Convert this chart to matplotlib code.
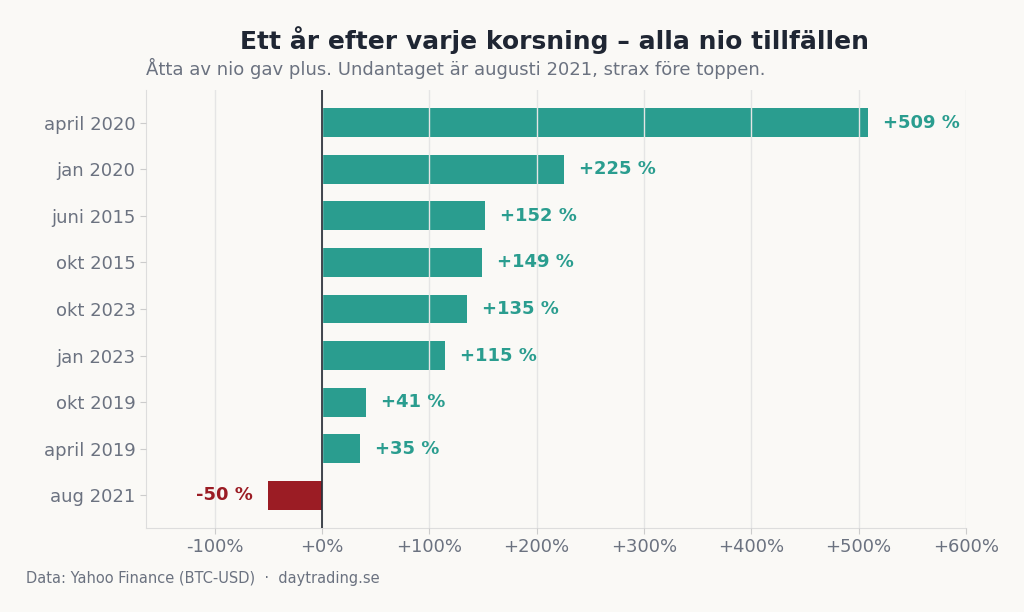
import matplotlib
matplotlib.use("Agg")
import matplotlib.pyplot as plt

labels = ["april 2020", "jan 2020", "juni 2015", "okt 2015", "okt 2023", "jan 2023", "okt 2019", "april 2019", "aug 2021"]
values = [509, 225, 152, 149, 135, 115, 41, 35, -50]
ticks = [-100, 0, 100, 200, 300, 400, 500, 600]

bg = "#faf9f6"
green = "#2a9d8f"
red = "#9b1c24"
gray = "#6b7280"

fig = plt.figure(figsize=(10.24, 6.12), dpi=100, facecolor=bg)
ax = fig.add_axes([146/1024, 1-528/612, 820/1024, 438/612], facecolor=bg)

y = list(range(len(labels)))[::-1]
colors = [green if v >= 0 else red for v in values]
ax.barh(y, values, height=0.62, color=colors, zorder=2)
for yi, v, c in zip(y, values, colors):
    if v >= 0:
        ax.text(v + 14, yi, f"+{v} %", va="center", ha="left", color=c, fontsize=13, fontweight="bold")
    else:
        ax.text(v - 14, yi, f"{v} %", va="center", ha="right", color=c, fontsize=13, fontweight="bold")

ax.set_xlim(-164, 600)
ax.set_ylim(-0.7, 8.7)
ax.set_xticks(ticks)
ax.set_xticklabels([f"+{t}%" if t >= 0 else f"{t}%" for t in ticks])
ax.set_yticks(y)
ax.set_yticklabels(labels)
ax.tick_params(colors=gray, labelsize=13, length=4)
ax.tick_params(axis="y", colors="#cccccc", labelcolor=gray)
ax.tick_params(axis="x", colors="#cccccc", labelcolor=gray)
ax.grid(axis="x", color="#e5e5e5", linewidth=1, zorder=3)
ax.set_axisbelow(False)
ax.axvline(0, color="#222831", linewidth=1.2, zorder=4)
for s in ["top", "right"]:
    ax.spines[s].set_visible(False)
for s in ["left", "bottom"]:
    ax.spines[s].set_color("#dddddd")

fig.text(555/1024, 1-40/612, "Ett år efter varje korsning – alla nio tillfällen", ha="center", va="center",
         fontsize=18, fontweight="bold", color="#1f2633")
fig.text(146/1024, 1-68/612, "Åtta av nio gav plus. Undantaget är augusti 2021, strax före toppen.", ha="left",
         va="center", fontsize=13, color=gray)
fig.text(26/1024, 1-579/612, "Data: Yahoo Finance (BTC-USD)  ·  daytrading.se", ha="left", va="center",
         fontsize=10.5, color=gray)
fig.savefig("out.png", dpi=100, facecolor=bg)
